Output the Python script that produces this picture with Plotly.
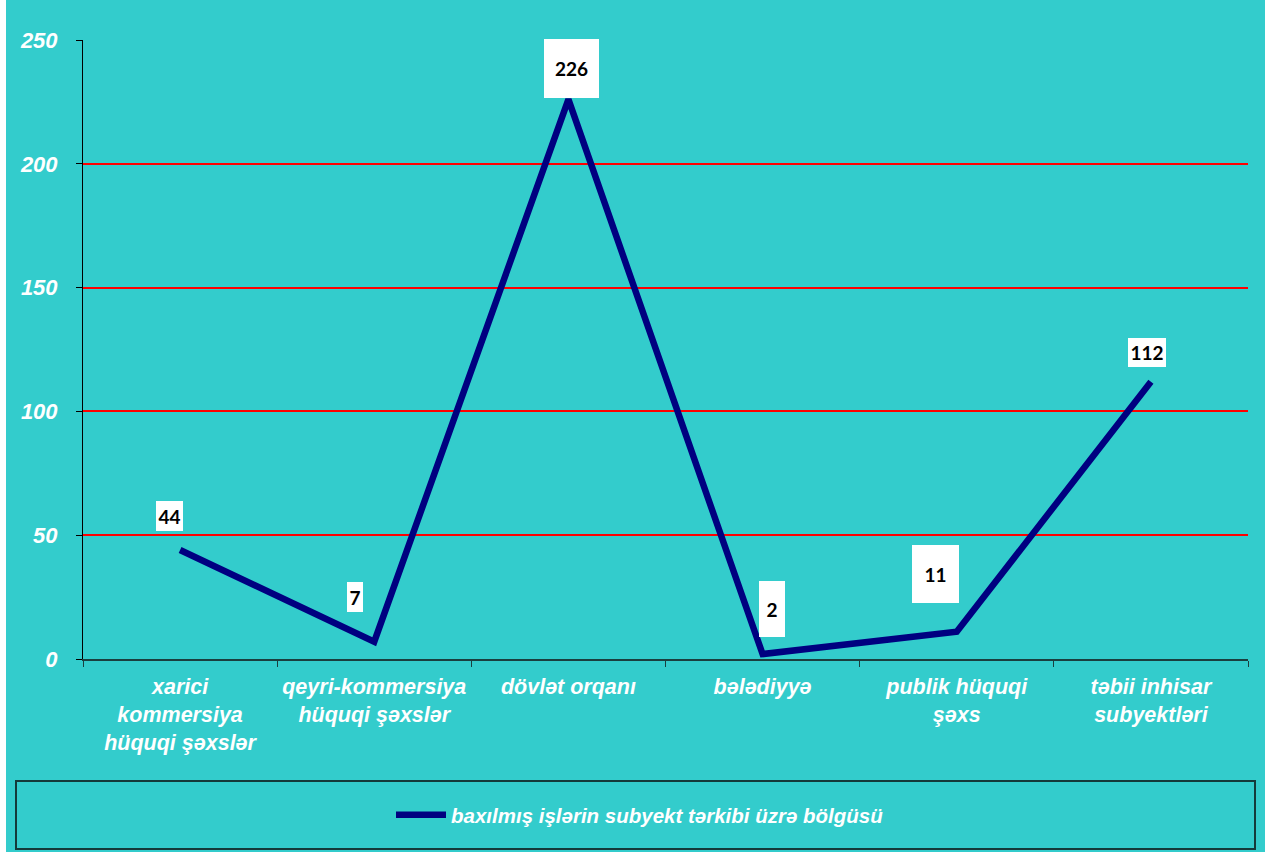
import plotly.graph_objects as go

categories = [
    "xarici<br>kommersiya<br>hüquqi şəxslər",
    "qeyri-kommersiya<br>hüquqi şəxslər",
    "dövlət orqanı",
    "bələdiyyə",
    "publik hüquqi<br>şəxs",
    "təbii inhisar<br>subyektləri",
]
values = [44, 7, 226, 2, 11, 112]
series_name = "baxılmış işlərin subyekt tərkibi üzrə bölgüsü"
y_ticks = [0, 50, 100, 150, 200, 250]

# label box styling (offset in px from point, box size in px)
label_shift_x = [-11, -19, 3, 9, -21, -4]
label_shift_y = [34, 45, 31, 45, 58, 29]
label_w = [27, 16, 55, 26, 47, 38]
label_h = [30, 30, 59, 56, 58, 29]

TEAL = "#33CCCC"
W, H = 1265, 852
ML, MR, MT, MB = 83, 17, 40, 193
PW = W - ML - MR
PH = H - MT - MB
FONT = "Liberation Sans, Arial, sans-serif"

fig = go.Figure()
fig.add_trace(go.Scatter(
    x=categories, y=values, mode="lines", name=series_name,
    line=dict(color="#000080", width=6.5),
))

for i, (c, v) in enumerate(zip(categories, values)):
    fig.add_annotation(
        x=c, y=v, xref="x", yref="y", text=f"<b>{v}</b>", showarrow=False,
        xshift=label_shift_x[i], yshift=label_shift_y[i],
        bgcolor="white", borderpad=0, borderwidth=0,
        width=label_w[i], height=label_h[i],
        font=dict(family="Lato, Open Sans, sans-serif", size=19, color="black"),
    )

def px_x(p):
    return (p - ML) / PW

def px_y(p):
    return (H - MB - p) / PH

# legend frame
fig.add_shape(type="rect", xref="paper", yref="paper",
              x0=px_x(16), x1=px_x(1255), y0=px_y(849), y1=px_y(781),
              line=dict(color="#143a3a", width=2), fillcolor="rgba(0,0,0,0)")
# white page strip at left
fig.add_shape(type="rect", xref="paper", yref="paper",
              x0=px_x(-5), x1=px_x(6), y0=px_y(870), y1=px_y(-20),
              line=dict(width=0), fillcolor="white")

fig.update_layout(
    width=W, height=H,
    margin=dict(l=ML, r=MR, t=MT, b=MB, autoexpand=False),
    paper_bgcolor=TEAL, plot_bgcolor=TEAL,
    showlegend=True,
    legend=dict(
        x=px_x(640), y=px_y(815), xanchor="center", yanchor="middle",
        bgcolor="rgba(0,0,0,0)", borderwidth=0,
        font=dict(family=FONT, size=20.5, color="white", weight="bold", style="italic"),
        itemwidth=50,
    ),
    xaxis=dict(
        type="category", range=[-0.5, 5.5], tickson="boundaries",
        ticks="outside", ticklen=6, tickcolor="#1a3f3f", tickwidth=1,
        showline=True, linecolor="#1a3f3f", linewidth=2,
        showgrid=False, zeroline=False, tickangle=0, automargin=False,
        ticklabelstandoff=7,
        tickfont=dict(family=FONT, size=21.5, color="white", weight="bold", style="italic"),
    ),
    yaxis=dict(
        range=[0, 250], tickvals=y_ticks, ticktext=[str(t) for t in y_ticks],
        ticks="outside", ticklen=6, tickcolor="black",
        showline=True, linecolor="black", linewidth=1,
        showgrid=True, gridcolor="#FF0000", gridwidth=2, zeroline=False,
        ticklabelstandoff=14, automargin=False,
        tickfont=dict(family=FONT, size=22, color="white", weight="bold", style="italic"),
    ),
)

fig.write_html("out.html", config={"displayModeBar": False},
               post_script="document.body.style.margin='0';")
